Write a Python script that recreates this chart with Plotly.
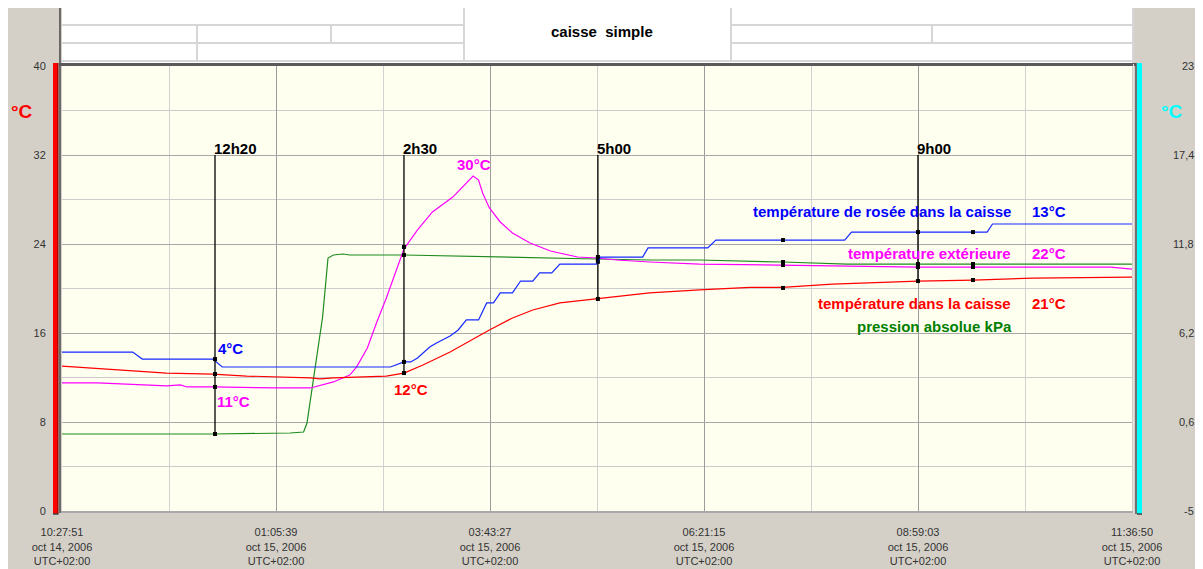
import plotly.graph_objects as go

# ---------------- data ----------------
D14 = "2006-10-14 "
D15 = "2006-10-15 "

x_start = D14 + "22:27:51"
x_end = D15 + "11:36:50"

x_tick_vals = [D14 + "22:27:51", D15 + "01:05:39", D15 + "03:43:27",
               D15 + "06:21:15", D15 + "08:59:03", D15 + "11:36:50"]
x_tick_text = ["10:27:51<br>oct 14, 2006<br>UTC+02:00",
               "01:05:39<br>oct 15, 2006<br>UTC+02:00",
               "03:43:27<br>oct 15, 2006<br>UTC+02:00",
               "06:21:15<br>oct 15, 2006<br>UTC+02:00",
               "08:59:03<br>oct 15, 2006<br>UTC+02:00",
               "11:36:50<br>oct 15, 2006<br>UTC+02:00"]

left_ticks = [0, 8, 16, 24, 32, 40]
right_ticks = [-5, 0.6, 6.2, 11.8, 17.4, 23]
right_tick_text = ["-5", "0,6", "6,2", "11,8", "17,4", "23"]

# température de rosée dans la caisse (right axis)
blue_t = [D14 + "22:27:51", D14 + "23:20", D14 + "23:27", D15 + "00:19", D15 + "00:26",
          D15 + "02:30", D15 + "02:40", D15 + "02:45", D15 + "02:50", D15 + "02:54",
          D15 + "02:59", D15 + "03:04", D15 + "03:14", D15 + "03:20", D15 + "03:26",
          D15 + "03:35", D15 + "03:41", D15 + "03:46", D15 + "03:51", D15 + "04:00",
          D15 + "04:06", D15 + "04:15", D15 + "04:20", D15 + "04:29", D15 + "04:35",
          D15 + "05:02", D15 + "05:05", D15 + "05:36", D15 + "05:40", D15 + "06:24",
          D15 + "06:30", D15 + "08:05", D15 + "08:10", D15 + "09:50", D15 + "09:54",
          D15 + "11:36:50"]
blue_v = [5.0, 5.0, 4.56, 4.56, 4.06, 4.06, 4.38, 4.38, 4.63, 4.94, 5.32, 5.57, 6.01,
          6.39, 7.02, 7.02, 8.09, 8.09, 8.72, 8.72, 9.47, 9.47, 9.98, 9.98, 10.54, 10.54,
          10.98, 10.98, 11.55, 11.55, 12.05, 12.05, 12.55, 12.55, 13.06, 13.06]

# température dans la caisse (left axis)
red_t = [D14 + "22:27:51", D14 + "23:45", D15 + "00:19", D15 + "00:44", D15 + "01:31",
         D15 + "01:38", D15 + "01:48", D15 + "02:27", D15 + "02:40", D15 + "02:54",
         D15 + "03:14", D15 + "03:43", D15 + "04:00", D15 + "04:15", D15 + "04:35",
         D15 + "05:02", D15 + "05:41", D15 + "06:18", D15 + "06:55", D15 + "07:19",
         D15 + "07:56", D15 + "08:59", D15 + "09:40", D15 + "10:24", D15 + "11:18",
         D15 + "11:36:50"]
red_v = [13.03, 12.40, 12.31, 12.13, 11.96, 11.87, 11.96, 12.13, 12.40, 13.12, 14.29,
         16.27, 17.35, 18.07, 18.70, 19.06, 19.60, 19.87, 20.10, 20.10, 20.40, 20.67,
         20.76, 20.94, 21.03, 21.03]

# température extérieure (left axis)
mag_t = [D14 + "22:27:51", D14 + "22:54", D14 + "23:45", D14 + "23:55", D15 + "00:00",
         D15 + "00:19", D15 + "01:06", D15 + "01:31", D15 + "01:48", D15 + "02:00",
         D15 + "02:05", D15 + "02:13", D15 + "02:20", D15 + "02:27", D15 + "02:40",
         D15 + "02:50", D15 + "03:01", D15 + "03:16", D15 + "03:31", D15 + "03:35",
         D15 + "03:38", D15 + "03:43", D15 + "03:51", D15 + "04:00", D15 + "04:13",
         D15 + "04:28", D15 + "04:48", D15 + "05:02", D15 + "05:17", D15 + "05:41",
         D15 + "06:18", D15 + "07:19", D15 + "08:07", D15 + "08:59", D15 + "10:24",
         D15 + "11:21", D15 + "11:36:50"]
mag_v = [11.51, 11.51, 11.24, 11.33, 11.15, 11.15, 11.06, 11.06, 11.60, 12.22, 12.94,
         14.65, 16.99, 19.15, 23.55, 25.26, 26.88, 28.22, 30.11, 29.75, 28.58, 27.24,
         25.98, 24.99, 24.09, 23.37, 22.83, 22.74, 22.56, 22.38, 22.20, 22.11, 22.02,
         21.93, 21.93, 21.93, 21.75]

# pression absolue kPa (left axis scale)
grn_t = [D14 + "22:27:51", D15 + "00:19", D15 + "01:16", D15 + "01:26", D15 + "01:28:30",
         D15 + "01:33", D15 + "01:40", D15 + "01:44", D15 + "01:48", D15 + "01:55",
         D15 + "02:00", D15 + "02:40", D15 + "03:43", D15 + "05:02", D15 + "05:41",
         D15 + "06:18", D15 + "07:19", D15 + "08:07", D15 + "08:59", D15 + "11:36:50"]
grn_v = [6.92, 6.92, 7.01, 7.10, 7.91, 11.51, 17.44, 22.74, 23.01, 23.10, 23.01, 23.01,
         22.83, 22.65, 22.56, 22.56, 22.38, 22.20, 22.20, 22.20]

# cursors
cursor_t = [D15 + "00:20:40", D15 + "02:40", D15 + "05:03", D15 + "08:59"]
cursor_lbl = ["12h20", "2h30", "5h00", "9h00"]
cursor_top = 32
cursor_bottom = [6.92, 12.40, 19.06, 20.67]

dot_t = [D15 + "00:20:40", D15 + "02:40", D15 + "05:03", D15 + "07:19:30",
         D15 + "08:59", D15 + "09:39:35"]
dot_red = [12.31, 12.40, 19.06, 20.05, 20.67, 20.76]
dot_mag = [11.15, 23.73, 22.40, 22.11, 21.93, 21.93]
dot_grn = [6.92, 23.01, 22.65, 22.38, 22.20, 22.20]
dot_blue = [4.56, 4.38, 10.98, 12.05, 12.55, 12.55]

# ---------------- layout helpers ----------------
# the page body keeps its default 8px margin, so the figure starts at (8, 8)
OFF = 8
W, H = 1203 - OFF, 569 - OFF
L, R, T, B = 62, 1132, 66, 511   # plot area in screen pixels


def PX(x):
    return (x - L) / (R - L)


def PY(y):
    return (B - y) / (B - T)


BLUE = "rgb(0,0,255)"
MAG = "rgb(255,0,255)"
RED = "rgb(255,0,0)"
GRN = "rgb(0,128,0)"
FONT = "Liberation Sans, Arial, sans-serif"

fig = go.Figure()
fig.add_trace(go.Scatter(x=grn_t, y=grn_v, mode="lines", line=dict(color="rgb(30,140,30)", width=1.2)))
fig.add_trace(go.Scatter(x=mag_t, y=mag_v, mode="lines", line=dict(color=MAG, width=1.2)))
fig.add_trace(go.Scatter(x=red_t, y=red_v, mode="lines", line=dict(color=RED, width=1.2)))
fig.add_trace(go.Scatter(x=blue_t, y=blue_v, mode="lines", yaxis="y2",
                         line=dict(color="rgb(20,40,255)", width=1.2)))

# cursor dots
mk = dict(color="black", size=4, symbol="square")
for vals in (dot_red, dot_mag, dot_grn):
    fig.add_trace(go.Scatter(x=dot_t, y=vals, mode="markers", marker=mk))
fig.add_trace(go.Scatter(x=dot_t, y=dot_blue, mode="markers", marker=mk, yaxis="y2"))

shapes = []


def rect(x0, y0, x1, y1, color, layer="above"):
    shapes.append(dict(type="rect", xref="paper", yref="paper", x0=PX(x0), x1=PX(x1),
                       y0=PY(y1), y1=PY(y0), fillcolor=color, line=dict(width=0), layer=layer))


def line(x0, y0, x1, y1, color, w=1):
    shapes.append(dict(type="line", xref="paper", yref="paper", x0=PX(x0), x1=PX(x1),
                       y0=PY(y0), y1=PY(y1), line=dict(color=color, width=w), layer="above"))


# header area
rect(62, 8, 1132, 63, "white")
HC = "#d6d6d6"
line(62, 25, 464, 25, HC, 2)
line(731, 25, 1132, 25, HC, 2)
line(62, 43, 464, 43, HC, 2)
line(731, 43, 1132, 43, HC, 2)
line(62, 61, 1132, 61, HC, 2)
line(197, 25, 197, 61, HC, 2)
line(331, 25, 331, 43, HC, 2)
line(464, 8, 464, 61, HC, 2)
line(731, 8, 731, 61, HC, 2)
line(932, 25, 932, 43, HC, 2)
line(1133, 8, 1133, 62, HC, 2)

# plot frame
line(60, 8, 60, 513, "#6a6a6a", 2)
line(59, 64.5, 1136, 64.5, "#5a5a5a", 3)
line(61, 512, 1134, 512, "#a8a8a8", 2)
line(1133.5, 64, 1133.5, 513, "#e4e4e4", 1)
line(1136, 63, 1136, 514, "#505050", 1.5)

# coloured axis bars
rect(53, 63, 58, 514, "rgb(255,0,0)")
line(58, 63, 58, 514, "#7a0000", 1)
line(53, 514, 58.5, 514, "#404040", 1.5)
rect(1137, 63, 1142, 514, "rgb(0,255,255)")
line(1137, 514, 1142, 514, "#404040", 1.5)

# cursor lines
for t, yb in zip(cursor_t, cursor_bottom):
    shapes.append(dict(type="line", xref="x", yref="y", x0=t, x1=t, y0=cursor_top, y1=yb,
                       line=dict(color="black", width=1.3), layer="above"))

ann = []


def text(x, y, s, color, size=15, xanchor="left", bold=True, yref="paper", xref="paper",
         xshift=0):
    ann.append(dict(x=x, y=y, xref=xref, yref=yref, text=s, showarrow=False,
                    xanchor=xanchor, yanchor="middle", xshift=xshift,
                    font=dict(family=FONT, size=size, color=color,
                              weight="bold" if bold else "normal")))


for t, lbl in zip(cursor_t, cursor_lbl):
    text(t, 32.6, lbl, "black", xref="x", yref="y", xanchor="left", xshift=-3)

text(PX(602), PY(31), "caisse  simple", "black", 15, "center")
text(PX(22), PY(111), "°C", RED, 19, "center")
text(PX(1172), PY(111), "°C", "rgb(0,255,255)", 19, "center")

text(PX(216), PY(348), "4°C", BLUE)
text(PX(215), PY(401), "11°C", MAG)
text(PX(392), PY(389), "12°C", RED)
text(PX(455), PY(164), "30°C", MAG)

text(PX(1013), PY(211), "température de rosée dans la caisse", BLUE, xanchor="right")
text(PX(1030), PY(211), "13°C", BLUE)
text(PX(1013), PY(253), "température extérieure", MAG, xanchor="right")
text(PX(1030), PY(253), "22°C", MAG)
text(PX(1013), PY(303), "température dans la caisse", RED, xanchor="right")
text(PX(1030), PY(303), "21°C", RED)
text(PX(1014), PY(326), "pression absolue kPa", GRN, xanchor="right")

# right axis tick labels
for v, s in zip(right_ticks, right_tick_text):
    ann.append(dict(x=PX(1196), y=v, xref="paper", yref="y2", text=s, showarrow=False,
                    xanchor="right", yanchor="middle",
                    font=dict(family=FONT, size=11, color="#333")))

fig.update_layout(
    width=W, height=H,
    margin=dict(l=L - OFF, r=W - (R - OFF), t=T - OFF, b=H - (B - OFF), pad=0,
                autoexpand=False),
    paper_bgcolor="#d4d0c8",
    plot_bgcolor="#fffff0",
    showlegend=False,
    hovermode=False,
    shapes=shapes,
    annotations=ann,
    xaxis=dict(type="date", range=[x_start, x_end], tickmode="array",
               tickvals=x_tick_vals, ticktext=x_tick_text, automargin=False,
               showgrid=True, gridcolor="#9c9c9c", gridwidth=1,
               minor=dict(tick0=x_start, dtick=4734000, showgrid=True,
                          gridcolor="#d2d2d2", gridwidth=1),
               ticks="outside", ticklen=11, tickcolor="rgba(0,0,0,0)",
               tickfont=dict(family=FONT, size=11, color="#333"),
               showline=False, zeroline=False, fixedrange=True),
    yaxis=dict(range=[0, 40], tickmode="array", tickvals=left_ticks, automargin=False,
               showgrid=True, gridcolor="#a8a8a8", gridwidth=1,
               minor=dict(dtick=4, showgrid=True, gridcolor="#cccccc", gridwidth=1),
               ticks="outside", ticklen=13, tickcolor="rgba(0,0,0,0)",
               tickfont=dict(family=FONT, size=11, color="#333"),
               showline=False, zeroline=False, fixedrange=True),
    yaxis2=dict(range=[-5, 23], overlaying="y", side="right", showgrid=False,
                automargin=False,
                showticklabels=False, zeroline=False, showline=False, fixedrange=True),
)

fig.write_html("out.html", config={"displayModeBar": False})
